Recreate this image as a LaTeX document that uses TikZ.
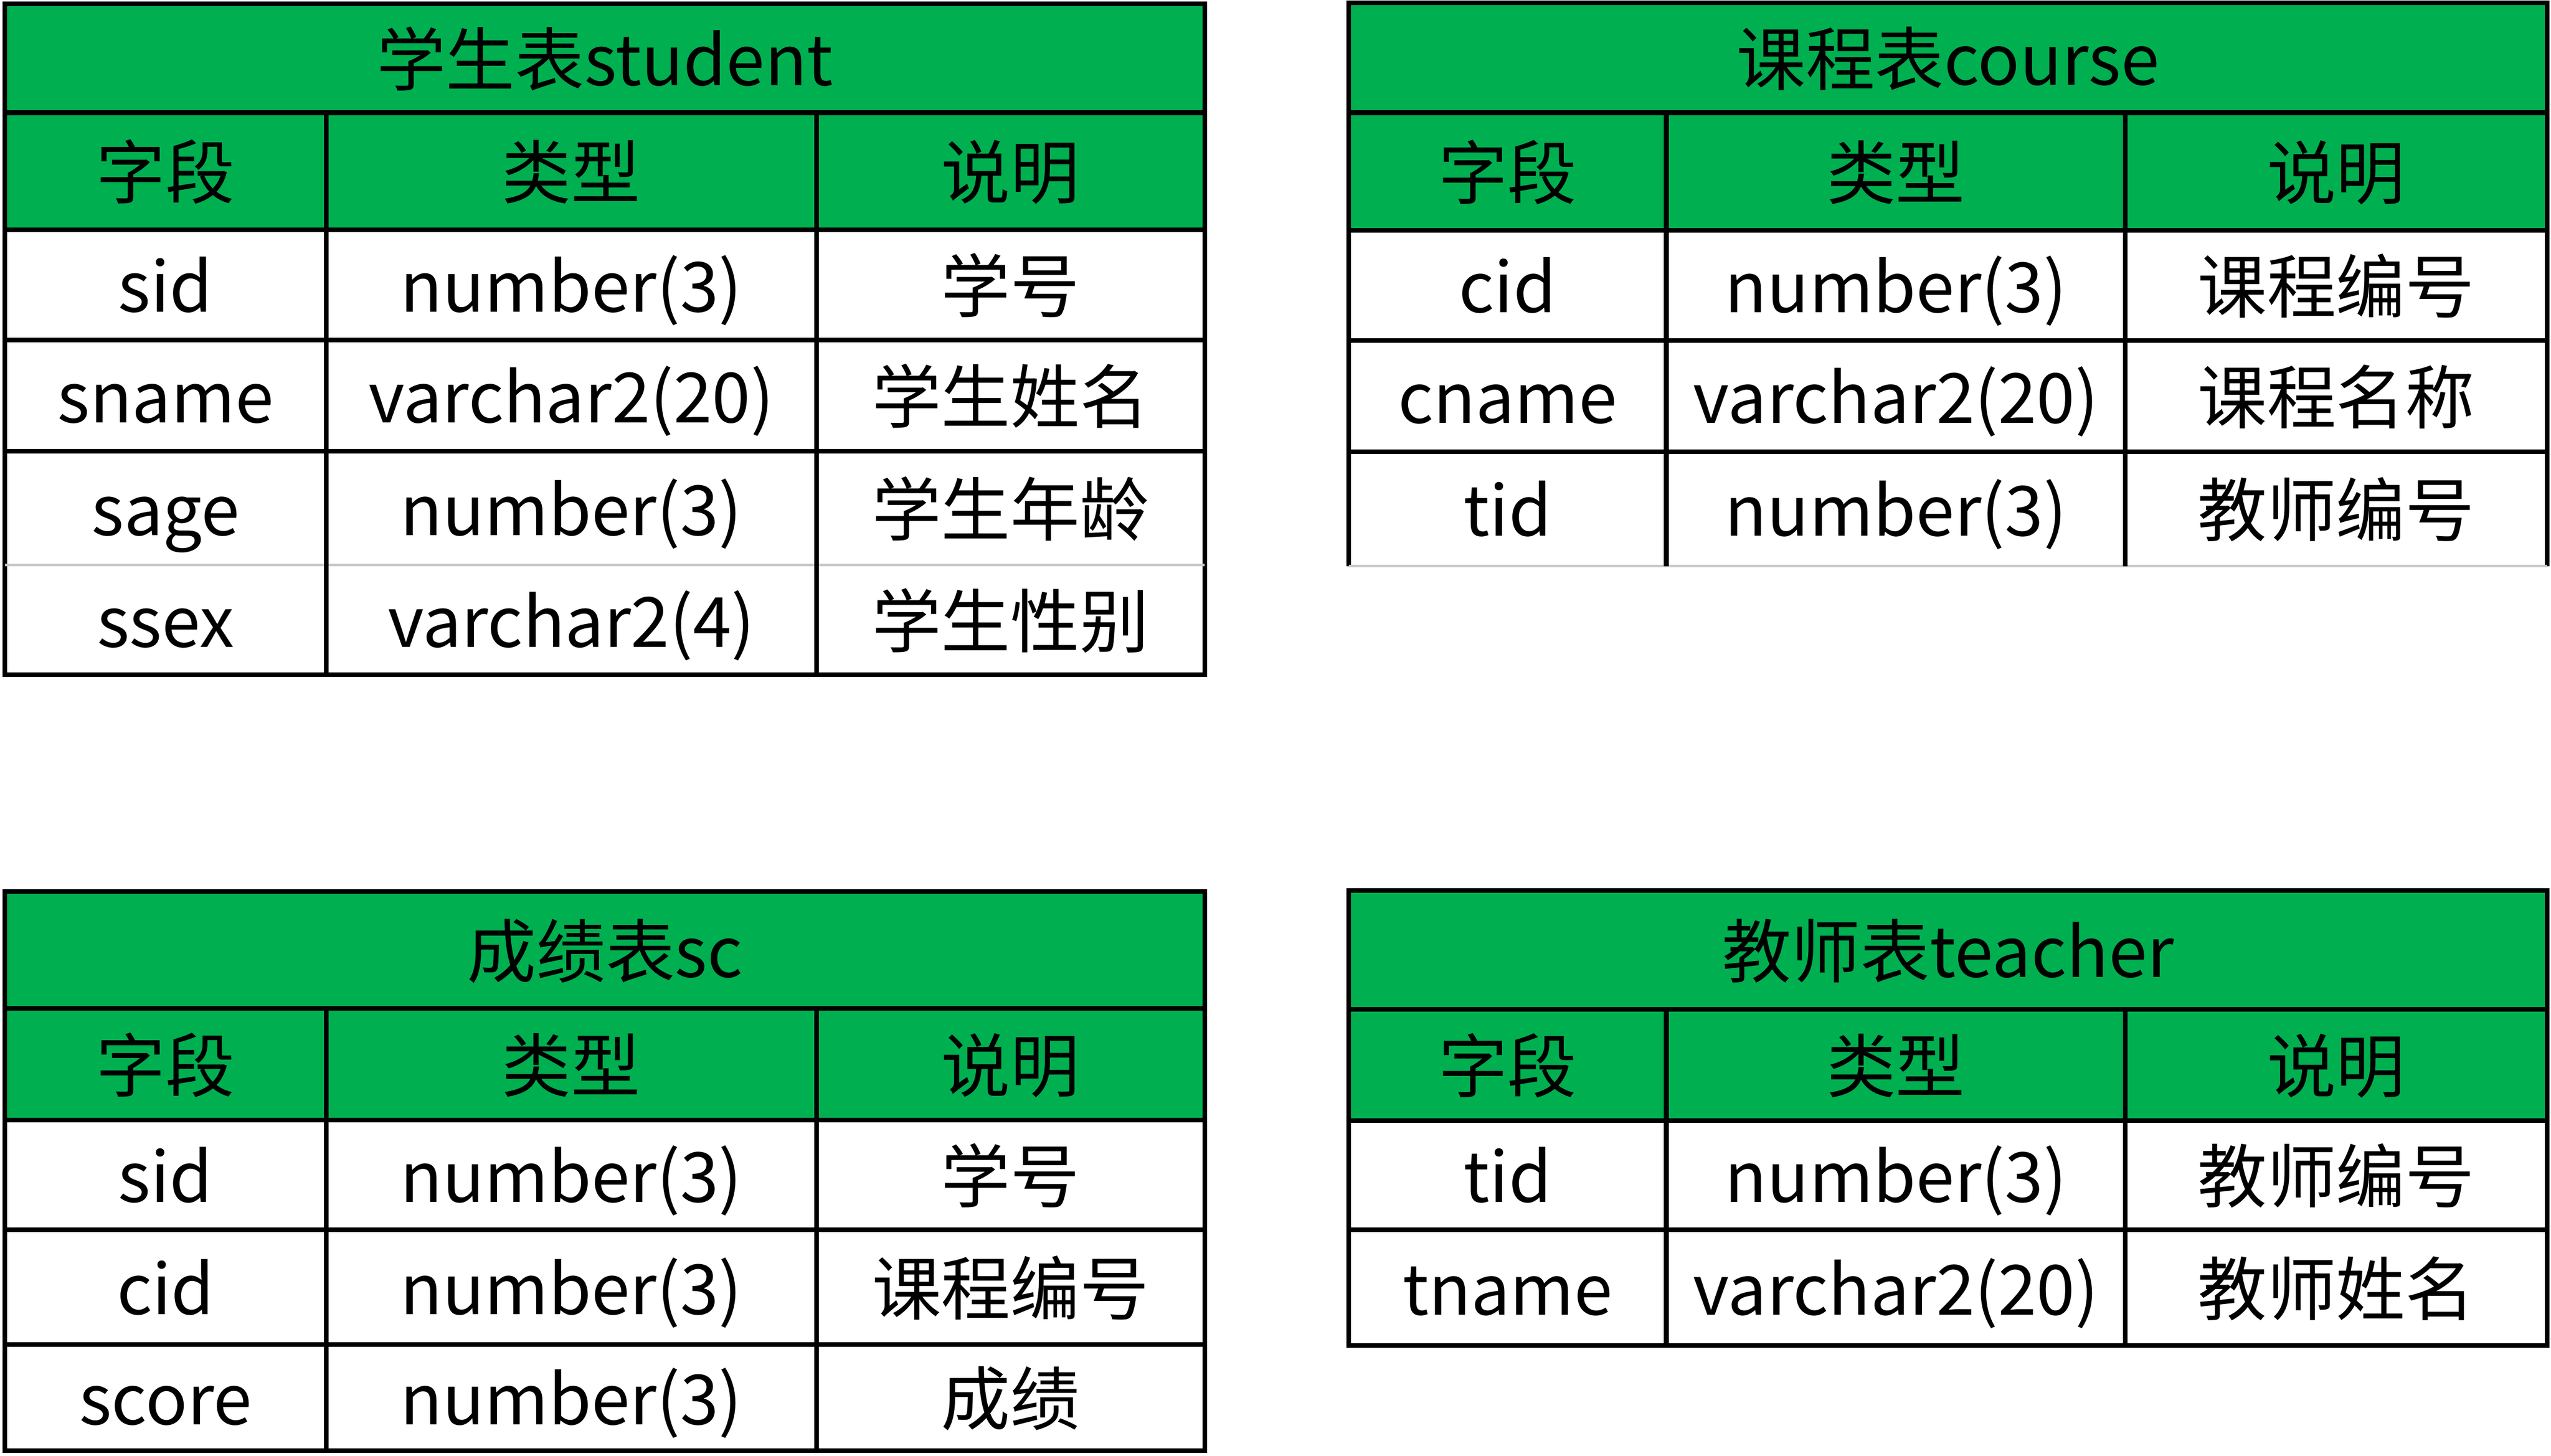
\documentclass[tikz,border=0pt]{standalone}
\usepackage{fontspec}
\setmainfont{Noto Sans CJK SC}
\definecolor{hdr}{HTML}{00B050}
\definecolor{faint}{HTML}{C8C8C8}
\tikzset{
  cell/.style={inner sep=0pt, text height=35pt, text depth=4.6pt,
    font=\fontsize{39}{47}\selectfont, anchor=center},
  rule/.style={line width=2.6pt, draw=black},
  thinrule/.style={line width=1.4pt, draw=faint},
}
\begin{document}
\begin{tikzpicture}
\useasboundingbox (0,0) rectangle (50.46,-28.80);

% ---------------- student table ----------------
\fill[hdr] (0.10,-0.08) rectangle (23.83,-4.55);
\draw[rule] (0.10,-0.08) rectangle (23.83,-13.35);
\foreach \y in {-2.23,-4.55,-6.73,-8.93} \draw[rule] (0.10,\y) -- (23.83,\y);
\draw[thinrule] (0.10,-11.18) -- (23.83,-11.18);
\foreach \x in {6.45,16.15} \draw[rule] (\x,-2.23) -- (\x,-13.35);
\node[cell] (st-title) at (11.965,-1.155) {学生表student};
\node[cell] (st-h1) at (3.275,-3.39) {字段};
\node[cell] (st-h2) at (11.30,-3.39) {类型};
\node[cell] (st-h3) at (19.99,-3.39) {说明};
\node[cell] (st-r1a) at (3.275,-5.64) {sid};
\node[cell] (st-r1b) at (11.30,-5.64) {number(3)};
\node[cell] (st-r1c) at (19.99,-5.64) {学号};
\node[cell] (st-r2a) at (3.275,-7.83) {sname};
\node[cell] (st-r2b) at (11.30,-7.83) {varchar2(20)};
\node[cell] (st-r2c) at (19.99,-7.83) {学生姓名};
\node[cell] (st-r3a) at (3.275,-10.055) {sage};
\node[cell] (st-r3b) at (11.30,-10.055) {number(3)};
\node[cell] (st-r3c) at (19.99,-10.055) {学生年龄};
\node[cell] (st-r4a) at (3.275,-12.265) {ssex};
\node[cell] (st-r4b) at (11.30,-12.265) {varchar2(4)};
\node[cell] (st-r4c) at (19.99,-12.265) {学生性别};

% ---------------- course table ----------------
\fill[hdr] (26.68,-0.06) rectangle (50.38,-4.56);
\draw[rule] (26.68,-11.20) -- (26.68,-0.06) -- (50.38,-0.06) -- (50.38,-11.20);
\draw[thinrule] (26.68,-11.20) -- (50.38,-11.20);
\foreach \y in {-2.23,-4.56,-6.74,-8.94} \draw[rule] (26.68,\y) -- (50.38,\y);
\foreach \x in {32.96,42.04} \draw[rule] (\x,-2.23) -- (\x,-11.20);
\node[cell] (co-title) at (38.53,-1.145) {课程表course};
\node[cell] (co-h1) at (29.82,-3.395) {字段};
\node[cell] (co-h2) at (37.50,-3.395) {类型};
\node[cell] (co-h3) at (46.21,-3.395) {说明};
\node[cell] (co-r1a) at (29.82,-5.65) {cid};
\node[cell] (co-r1b) at (37.50,-5.65) {number(3)};
\node[cell] (co-r1c) at (46.21,-5.65) {课程编号};
\node[cell] (co-r2a) at (29.82,-7.84) {cname};
\node[cell] (co-r2b) at (37.50,-7.84) {varchar2(20)};
\node[cell] (co-r2c) at (46.21,-7.84) {课程名称};
\node[cell] (co-r3a) at (29.82,-10.07) {tid};
\node[cell] (co-r3b) at (37.50,-10.07) {number(3)};
\node[cell] (co-r3c) at (46.21,-10.07) {教师编号};

% ---------------- sc table ----------------
\fill[hdr] (0.10,-17.64) rectangle (23.83,-22.16);
\draw[rule] (0.10,-17.64) rectangle (23.83,-28.70);
\foreach \y in {-19.95,-22.16,-24.33,-26.60} \draw[rule] (0.10,\y) -- (23.83,\y);
\foreach \x in {6.45,16.15} \draw[rule] (\x,-19.95) -- (\x,-28.70);
\node[cell] (sc-title) at (11.965,-18.795) {成绩表sc};
\node[cell] (sc-h1) at (3.275,-21.055) {字段};
\node[cell] (sc-h2) at (11.30,-21.055) {类型};
\node[cell] (sc-h3) at (19.99,-21.055) {说明};
\node[cell] (sc-r1a) at (3.275,-23.245) {sid};
\node[cell] (sc-r1b) at (11.30,-23.245) {number(3)};
\node[cell] (sc-r1c) at (19.99,-23.245) {学号};
\node[cell] (sc-r2a) at (3.275,-25.465) {cid};
\node[cell] (sc-r2b) at (11.30,-25.465) {number(3)};
\node[cell] (sc-r2c) at (19.99,-25.465) {课程编号};
\node[cell] (sc-r3a) at (3.275,-27.65) {score};
\node[cell] (sc-r3b) at (11.30,-27.65) {number(3)};
\node[cell] (sc-r3c) at (19.99,-27.65) {成绩};

% ---------------- teacher table ----------------
\fill[hdr] (26.68,-17.62) rectangle (50.38,-22.17);
\draw[rule] (26.68,-17.62) rectangle (50.38,-26.62);
\foreach \y in {-19.97,-22.17,-24.33} \draw[rule] (26.68,\y) -- (50.38,\y);
\foreach \x in {32.96,42.04} \draw[rule] (\x,-19.97) -- (\x,-26.62);
\node[cell] (te-title) at (38.53,-18.795) {教师表teacher};
\node[cell] (te-h1) at (29.82,-21.07) {字段};
\node[cell] (te-h2) at (37.50,-21.07) {类型};
\node[cell] (te-h3) at (46.21,-21.07) {说明};
\node[cell] (te-r1a) at (29.82,-23.25) {tid};
\node[cell] (te-r1b) at (37.50,-23.25) {number(3)};
\node[cell] (te-r1c) at (46.21,-23.25) {教师编号};
\node[cell] (te-r2a) at (29.82,-25.475) {tname};
\node[cell] (te-r2b) at (37.50,-25.475) {varchar2(20)};
\node[cell] (te-r2c) at (46.21,-25.475) {教师姓名};
\end{tikzpicture}
\end{document}
